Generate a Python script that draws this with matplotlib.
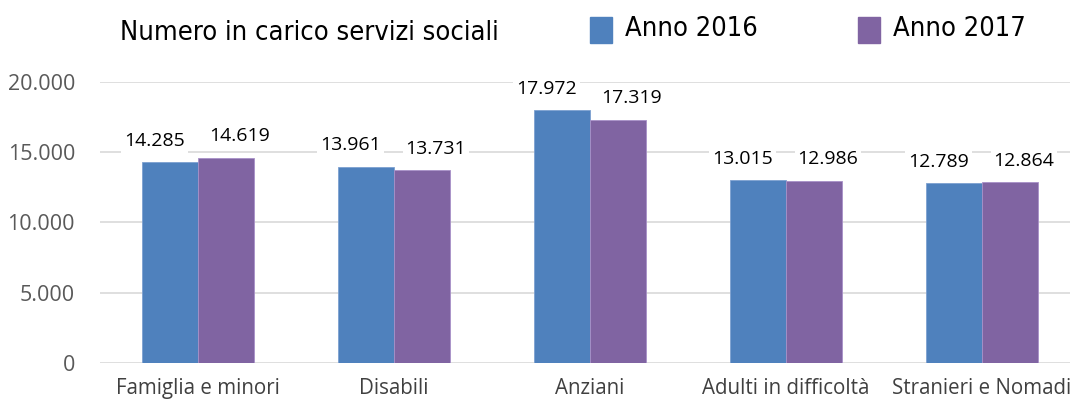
import numpy as np
import matplotlib.pyplot as plt
from matplotlib.patches import Rectangle

categories = ["Famiglia e minori", "Disabili", "Anziani", "Adulti in difficoltà", "Stranieri e Nomadi"]
anno_2016 = [14285, 13961, 17972, 13015, 12789]
anno_2017 = [14619, 13731, 17319, 12986, 12864]
yticks = [0, 5000, 10000, 15000, 20000]
ytick_labels = ["0", "5.000", "10.000", "15.000", "20.000"]

W, H = 1070, 403
fig = plt.figure(figsize=(W / 100, H / 100), dpi=100)
# axes in pixel coords: left 100, right 1080, bottom 363, top 82
ax = fig.add_axes([100 / W, 1 - 363 / H, 980 / W, (363 - 82) / H])

c16 = "#4f81bd"
c17 = "#8064a2"
x = np.arange(len(categories))
bw = 0.286
ax.bar(x - bw / 2, anno_2016, width=bw, color=c16, edgecolor="#7da0d0", linewidth=0.6, zorder=3)
ax.bar(x + bw / 2, anno_2017, width=bw, color=c17, edgecolor="#a890c8", linewidth=0.6, zorder=3)

def fmt(v):
    return f"{v:,}".replace(",", ".")

# labels pushed apart sideways like Excel does
for xs, vals, dx in [(x - bw / 2, anno_2016, -11), (x + bw / 2, anno_2017, 10)]:
    for xi, v in zip(xs, vals):
        ax.annotate(fmt(v), (xi, v), xytext=(dx, 15.5), textcoords="offset points",
                    ha="center", va="center", fontsize=14, family="Open Sans", color="black",
                    bbox=dict(boxstyle="square,pad=0.15", fc="white", ec="none"), zorder=4,
                    annotation_clip=False)

ax.set_xlim(-0.5, len(categories) - 0.5)
ax.set_ylim(0, 20000)
ax.set_yticks(yticks)
ax.set_yticklabels(ytick_labels, fontsize=15.5, family="Open Sans", color="#595959")
ax.set_xticks(x)
ax.set_xticklabels(categories, fontsize=14.8, family="Open Sans", color="#404040")
ax.tick_params(length=0)
ax.tick_params(axis="y", pad=18)
ax.tick_params(axis="x", pad=11)
ax.grid(axis="y", color="#d9d9d9", linewidth=1.2, zorder=0)
for s in ax.spines.values():
    s.set_visible(False)

# title and legend
tf = dict(family="DejaVu Sans", fontstretch="condensed", fontweight="light")
fig.text(120 / W, 1 - 33 / H, "Numero in carico servizi sociali", fontsize=19.5,
         va="center", ha="left", **tf)
for px, col, lab in [(590, c16, "Anno 2016"), (858, c17, "Anno 2017")]:
    fig.patches.append(Rectangle((px / W, 1 - 43 / H), 22 / W, 26 / H, transform=fig.transFigure,
                                 color=col, figure=fig))
    fig.text((px + 35) / W, 1 - 29 / H, lab, fontsize=19.5, va="center", ha="left", **tf)

fig.savefig("out.png", dpi=100)
